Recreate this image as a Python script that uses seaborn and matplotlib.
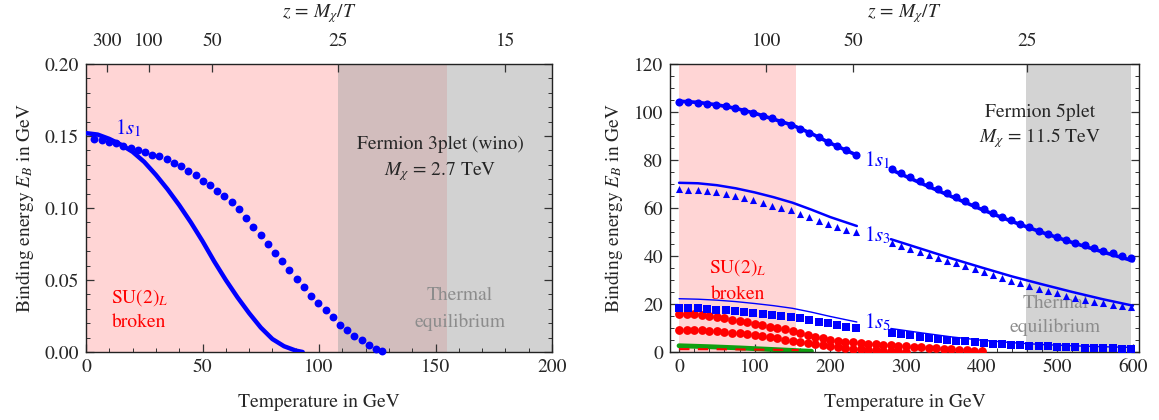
import numpy as np
import pandas as pd
import matplotlib
matplotlib.use("Agg")
import matplotlib.pyplot as plt
import seaborn as sns
from matplotlib.ticker import MultipleLocator, FormatStrFormatter

# ---------------- data: left panel (wino, M = 2.7 TeV) ----------------
M_left = 2700.0
T_line_L = [0, 5, 10, 15, 20, 25, 30, 35, 40, 45, 50, 55, 60, 65, 70, 75, 80, 85, 90, 93]
E_line_L = [0.152, 0.151, 0.148, 0.144, 0.139, 0.132, 0.123, 0.113, 0.102, 0.090,
            0.077, 0.063, 0.050, 0.038, 0.027, 0.017, 0.009, 0.004, 0.001, 0.0]
T_dots_L = [3.6, 6.7, 9.8, 12.9, 16.0, 19.1, 22.2, 25.3, 28.4, 31.5, 34.6, 37.7, 40.8,
            43.9, 47.0, 50.1, 53.2, 56.3, 59.4, 62.5, 65.6, 68.7, 71.8, 74.9, 78.0,
            81.1, 84.2, 87.3, 90.4, 93.5, 96.6, 99.7, 102.8, 105.9, 109.0, 112.1,
            115.2, 118.3, 121.4, 124.5, 127.0]
E_dots_L = [0.148, 0.147, 0.146, 0.145, 0.143, 0.142, 0.140, 0.139, 0.137, 0.136,
            0.134, 0.131, 0.129, 0.126, 0.123, 0.119, 0.116, 0.112, 0.108, 0.104,
            0.099, 0.093, 0.087, 0.081, 0.075, 0.069, 0.063, 0.057, 0.051, 0.045,
            0.039, 0.034, 0.029, 0.024, 0.019, 0.015, 0.011, 0.008, 0.005, 0.002, 0.0007]
z_ticks_L = [300, 100, 50, 25, 15]

# ---------------- data: right panel (5plet, M = 11.5 TeV) ----------------
M_right = 11500.0
z_ticks_R = [100, 50, 25]
TL_A = [0, 25, 50, 75, 100, 125, 150, 175, 200, 235]
TL_B = [280, 320, 360, 400, 440, 480, 520, 560, 600]
line_1s1_A = [104.5, 104.0, 103.0, 101.5, 99.5, 97.0, 94.5, 91.0, 87.0, 82.0]
line_1s1_B = [76.0, 70.3, 64.8, 59.4, 54.4, 49.8, 45.6, 41.7, 38.0]
line_1s3_A = [70.5, 70.3, 69.5, 68.2, 66.5, 64.5, 62.2, 59.3, 56.2, 52.5]
line_1s3_B = [47.0, 43.0, 39.0, 35.2, 31.5, 28.2, 25.0, 22.0, 19.3]
line_1s5_A = [22.2, 22.0, 21.6, 21.0, 20.2, 19.3, 18.2, 16.6, 14.8, 12.5]
line_1s5_B = [9.8, 8.0, 6.3, 4.9, 3.9, 3.1, 2.6, 2.2, 1.9]

TM_A = [0, 12, 25, 37, 49, 62, 74, 86, 98, 111, 123, 135, 148, 160, 172, 185, 197, 209, 221, 234]
TM_B = [281, 293, 305, 318, 330, 342, 354, 366, 378, 391, 403, 415, 427, 439, 451, 463,
        476, 488, 500, 512, 524, 536, 548, 561, 573, 585, 597]
pts_1s1_A = [104.3, 104.2, 103.9, 103.5, 103.0, 102.3, 101.5, 100.6, 99.6, 98.5, 97.3,
             96.0, 94.7, 93.0, 91.3, 89.5, 87.5, 85.7, 84.0, 82.2]
pts_1s1_B = [76.3, 74.6, 72.9, 71.1, 69.4, 67.8, 66.1, 64.5, 62.9, 61.1, 59.5, 57.9, 56.3,
             54.8, 53.4, 52.0, 50.6, 49.3, 48.0, 46.8, 45.6, 44.4, 43.3, 42.2, 41.2, 40.2, 39.3]
pts_1s3_A = [67.8, 67.7, 67.4, 67.0, 66.5, 65.8, 65.0, 64.1, 63.2, 62.1, 61.0, 60.0, 59.0,
             57.6, 56.2, 54.7, 53.3, 52.0, 51.0, 50.0]
pts_1s3_B = [45.3, 44.2, 43.0, 41.7, 40.5, 39.3, 38.1, 36.9, 35.7, 34.4, 33.2, 32.0, 30.8,
             29.7, 28.6, 27.5, 26.4, 25.4, 24.4, 23.5, 22.6, 21.8, 21.0, 20.3, 19.7, 19.1, 18.6]
pts_1s5_A = [18.5, 18.4, 18.2, 18.0, 17.7, 17.4, 17.0, 16.6, 16.2, 15.8, 15.4, 15.0, 14.6,
             14.0, 13.3, 12.6, 11.9, 11.2, 10.6, 10.1]
pts_1s5_B = [8.0, 7.4, 6.9, 6.4, 5.9, 5.5, 5.1, 4.7, 4.4, 4.1, 3.8, 3.5, 3.2, 3.0, 2.8, 2.6,
             2.4, 2.3, 2.1, 2.0, 1.9, 1.8, 1.7, 1.6, 1.5, 1.4, 1.3]

T_red_up = [0, 10, 20, 30, 40, 50, 60, 70, 80, 90, 100, 110, 120, 130, 140, 150, 160, 170,
            180, 190, 200, 210, 220, 230, 240, 250, 260, 270, 280, 290, 300, 310, 320, 330,
            340, 350, 360, 370, 380, 390, 400]
E_red_up = [16.0, 16.0, 15.8, 15.5, 15.1, 14.6, 14.1, 13.5, 12.9, 12.3, 11.8, 11.2, 10.6,
            10.0, 9.4, 8.7, 8.0, 7.2, 6.4, 5.7, 5.0, 4.6, 4.3, 4.0, 3.8, 3.5, 3.3, 3.0, 2.8,
            2.5, 2.3, 2.1, 1.9, 1.7, 1.5, 1.3, 1.1, 0.9, 0.8, 0.6, 0.5]
T_red_low = [0, 10, 20, 30, 40, 50, 60, 70, 80, 90, 100, 110, 120, 130, 140, 150, 160, 170,
             180, 190, 200, 210, 220, 230, 240, 250, 260, 270, 280, 290, 300]
E_red_low = [9.3, 9.3, 9.2, 9.1, 8.9, 8.7, 8.4, 8.1, 7.8, 7.4, 7.0, 6.6, 6.2, 5.7, 5.2, 4.7,
             4.2, 3.7, 3.2, 2.8, 2.4, 2.0, 1.7, 1.4, 1.1, 0.9, 0.7, 0.5, 0.4, 0.3, 0.2]
T_red_dash = [0, 50, 100, 158]
E_red_dash = [1.2, 1.15, 1.0, 0.8]
T_green = [0, 40, 80, 120, 160, 175]
E_green = [2.6, 2.2, 1.7, 1.1, 0.5, 0.3]

# ---------------- style ----------------
sns.set_theme(style="ticks")
plt.rcParams["font.family"] = ["STIXGeneral", "DejaVu Serif"]
plt.rcParams["mathtext.fontset"] = "stix"
plt.rcParams["axes.linewidth"] = 1.0
FS = 14

BLUE = "#0000FF"
RED = "#FF0000"
GREEN = "#10A010"
PINK = "#FFD5D5"
GRAYTXT = "#8C8C8C"

fig = plt.figure(figsize=(11.59, 4.20), dpi=100)
axL = fig.add_axes([86 / 1159, 1 - 352 / 420, 466 / 1159, 288 / 420])
axR = fig.add_axes([670 / 1159, 1 - 352 / 420, 469 / 1159, 288 / 420])


def style_axes(ax, M, zticks, xmaj, xmin, ymaj, ymin):
    ax.xaxis.set_major_locator(MultipleLocator(xmaj))
    ax.xaxis.set_minor_locator(MultipleLocator(xmin))
    ax.yaxis.set_major_locator(MultipleLocator(ymaj))
    ax.yaxis.set_minor_locator(MultipleLocator(ymin))
    ax.tick_params(which="both", direction="in", top=False, right=True,
                   labelsize=FS, color="#333333", pad=5)
    ax.tick_params(which="major", length=6, width=0.9)
    ax.tick_params(which="minor", length=3, width=0.7)
    for s in ax.spines.values():
        s.set_color("#222222")
        s.set_visible(True)
    ax.set_xlabel("Temperature in GeV", fontsize=FS, labelpad=13)
    ax.set_ylabel(r"Binding energy $E_B$ in GeV", fontsize=FS, labelpad=6)
    top = ax.twiny()
    top.set_xlim(ax.get_xlim())
    top.set_xticks([M / z for z in zticks])
    top.set_xticklabels([str(z) for z in zticks])
    top.xaxis.set_minor_locator(plt.NullLocator())
    top.tick_params(which="both", direction="in", labelsize=FS, length=6, width=0.9,
                    color="#333333", pad=10)
    top.set_xlabel(r"$z\,=\,M_\chi/T$", fontsize=FS, labelpad=11)
    for s in top.spines.values():
        s.set_visible(False)
    return top


# ---------------- left panel ----------------
axL.set_xlim(0, 200)
axL.set_ylim(0, 0.2)
axL.axvspan(0, 155, color=PINK, lw=0, zorder=0)
axL.axvspan(108, 200, color="#A7A7A7", alpha=0.5, lw=0, zorder=0.5)

dfL_line = pd.DataFrame({"T": T_line_L, "E": E_line_L})
dfL_dots = pd.DataFrame({"T": T_dots_L, "E": E_dots_L})
sns.lineplot(data=dfL_line, x="T", y="E", ax=axL, color=BLUE, lw=3.2, sort=False, zorder=3)
sns.scatterplot(data=dfL_dots, x="T", y="E", ax=axL, color=BLUE, s=32, linewidth=0,
                zorder=3, clip_on=False)

axL.text(18, 0.155, r"$\mathrm{1}s_1$", color=BLUE, fontsize=15, ha="center", va="center")
axL.text(152, 0.144, "Fermion 3plet (wino)", fontsize=FS, ha="center", va="center")
axL.text(152, 0.1255, r"$M_\chi$ = 2.7 TeV", fontsize=FS, ha="center", va="center")
axL.text(23, 0.0375, r"SU(2)$_L$", color=RED, fontsize=FS, ha="center", va="center")
axL.text(23, 0.0205, "broken", color=RED, fontsize=FS, ha="center", va="center")
axL.text(160.5, 0.039, "Thermal", color=GRAYTXT, fontsize=FS, ha="center", va="center",
         zorder=5)
axL.text(160.5, 0.021, "equilibrium", color=GRAYTXT, fontsize=FS, ha="center", va="center",
         zorder=5)
style_axes(axL, M_left, z_ticks_L, 50, 10, 0.05, 0.01)
axL.yaxis.set_major_formatter(FormatStrFormatter("%.2f"))

# ---------------- right panel ----------------
axR.set_xlim(-12, 608)
axR.set_ylim(0, 120)
axR.axvspan(0, 155, color=PINK, lw=0, zorder=0)
axR.axvspan(458, 597, color="#D3D3D3", lw=0, zorder=0)

# green and red lower states
sns.lineplot(x=T_green, y=E_green, ax=axR, color=GREEN, lw=3.5, sort=False, zorder=2)
sns.lineplot(x=T_red_dash, y=E_red_dash, ax=axR, color=RED, lw=1.5, sort=False,
             zorder=2.5, linestyle=(0, (5, 4)))
dfRedU = pd.DataFrame({"T": T_red_up, "E": E_red_up})
dfRedL = pd.DataFrame({"T": T_red_low, "E": E_red_low})
sns.scatterplot(data=dfRedU, x="T", y="E", ax=axR, color=RED, s=40, linewidth=0, zorder=2.6)
sns.scatterplot(data=dfRedL, x="T", y="E", ax=axR, color=RED, s=40, linewidth=0, zorder=2.6)

# blue states: lines
for TL, ys, lw in [(TL_A, line_1s1_A, 2.6), (TL_B, line_1s1_B, 2.6),
                   (TL_A, line_1s3_A, 1.8), (TL_B, line_1s3_B, 1.8),
                   (TL_A, line_1s5_A, 1.0), (TL_B, line_1s5_B, 1.0)]:
    sns.lineplot(x=TL, y=ys, ax=axR, color=BLUE, lw=lw, sort=False, zorder=3)

# blue states: markers
for TM, ys, mk, s in [(TM_A, pts_1s1_A, "o", 34), (TM_B, pts_1s1_B, "o", 34),
                      (TM_A, pts_1s3_A, "^", 26), (TM_B, pts_1s3_B, "^", 26),
                      (TM_A, pts_1s5_A, "s", 30), (TM_B, pts_1s5_B, "s", 30)]:
    sns.scatterplot(x=TM, y=ys, ax=axR, color=BLUE, marker=mk, s=s, linewidth=0, zorder=3.5)

axR.text(262, 80, r"$\mathrm{1}s_1$", color=BLUE, fontsize=15, ha="center", va="center")
axR.text(262, 48.5, r"$\mathrm{1}s_3$", color=BLUE, fontsize=15, ha="center", va="center")
axR.text(262, 12.5, r"$\mathrm{1}s_5$", color=BLUE, fontsize=15, ha="center", va="center")
axR.text(477, 100, "Fermion 5plet", fontsize=FS, ha="center", va="center")
axR.text(477, 89, r"$M_\chi$ = 11.5 TeV", fontsize=FS, ha="center", va="center")
axR.text(78, 35, r"SU(2)$_L$", color=RED, fontsize=FS, ha="center", va="center")
axR.text(78, 23.8, "broken", color=RED, fontsize=FS, ha="center", va="center")
axR.text(498, 20.3, "Thermal", color=GRAYTXT, fontsize=FS, ha="center", va="center",
         zorder=2)
axR.text(497, 10.2, "equilibrium", color=GRAYTXT, fontsize=FS, ha="center", va="center",
         zorder=2)
style_axes(axR, M_right, z_ticks_R, 100, 20, 20, 5)

for ax in (axL, axR):
    leg = ax.get_legend()
    if leg is not None:
        leg.remove()

fig.savefig("out.png", dpi=100)
